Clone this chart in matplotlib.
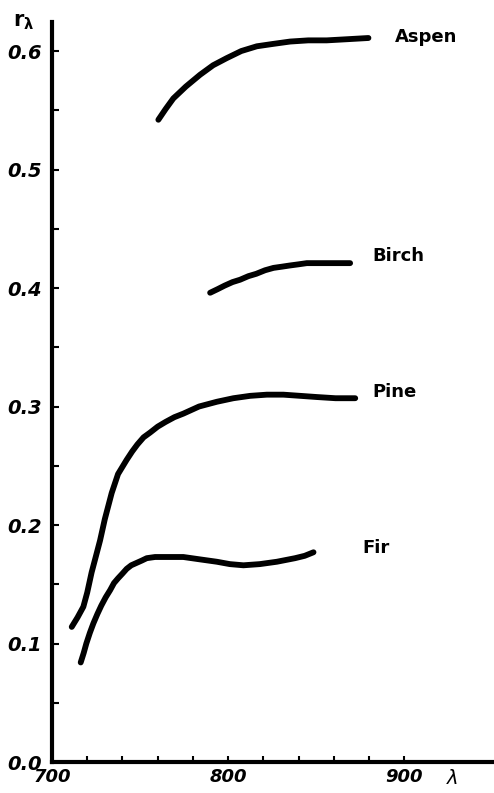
import numpy as np
import matplotlib.pyplot as plt

# curves (wavelength, reflectance)
aspen_x = [760.4, 764.5, 768.9, 776.0, 784.1, 791.5, 799.2, 807.5, 816.3, 825.5, 835.2, 845.5, 856.0, 868.0, 879.7]
aspen_y = [0.542, 0.551, 0.560, 0.570, 0.580, 0.588, 0.594, 0.600, 0.604, 0.606, 0.608, 0.609, 0.609, 0.610, 0.611]

birch_x = [789.8, 794.0, 798.0, 802.5, 806.8, 811.5, 816.0, 821.0, 825.8, 830.5, 835.0, 840.0, 844.7, 857.0, 869.3]
birch_y = [0.396, 0.399, 0.402, 0.405, 0.407, 0.410, 0.412, 0.415, 0.417, 0.418, 0.419, 0.420, 0.421, 0.421, 0.421]

pine_x = [711.2, 714.5, 717.8, 720.0, 722.5, 725.0, 727.3, 730.0, 733.9, 737.5, 742.4, 745.5, 748.5, 752.0, 755.7,
          760.0, 764.5, 769.5, 774.6, 783.5, 793.6, 803.0, 812.5, 822.0, 831.4, 841.0, 850.4, 861.0, 872.2]
pine_y = [0.114, 0.122, 0.131, 0.143, 0.160, 0.174, 0.187, 0.205, 0.227, 0.243, 0.255, 0.262, 0.268, 0.274, 0.278,
          0.283, 0.287, 0.291, 0.294, 0.300, 0.304, 0.307, 0.309, 0.310, 0.310, 0.309, 0.308, 0.307, 0.307]

fir_x = [716.3, 718.0, 719.5, 721.5, 723.5, 725.8, 728.0, 730.5, 733.0, 735.2, 737.5, 740.0, 742.4, 745.0, 748.0,
         751.0, 753.8, 758.5, 764.0, 769.0, 774.6, 784.0, 793.6, 801.0, 808.7, 818.0, 827.7, 838.0, 843.5, 848.5]
fir_y = [0.084, 0.092, 0.100, 0.109, 0.117, 0.125, 0.132, 0.139, 0.145, 0.151, 0.155, 0.159, 0.163, 0.166, 0.168,
         0.170, 0.172, 0.173, 0.173, 0.173, 0.173, 0.171, 0.169, 0.167, 0.166, 0.167, 0.169, 0.172, 0.174, 0.177]

names = ["Aspen", "Birch", "Pine", "Fir"]
label_x = [895, 882, 882, 876.5]
label_y = [0.612, 0.427, 0.312, 0.181]

y_ticks = [0.0, 0.1, 0.2, 0.3, 0.4, 0.5, 0.6]
y_tick_labels = ["0.0", "0.1", "0.2", "0.3", "0.4", "0.5", "0.6"]
x_ticks = [700, 800, 900]
x_tick_labels = ["700", "800", "900"]

fig = plt.figure(figsize=(4.94, 7.93), dpi=100)
ax = fig.add_axes([52 / 494, 31 / 793, 442 / 494, 740 / 793])

for xs, ys in [(aspen_x, aspen_y), (birch_x, birch_y), (pine_x, pine_y), (fir_x, fir_y)]:
    ax.plot(xs, ys, color="black", lw=4.2, solid_capstyle="round", solid_joinstyle="round")

for name, lx, ly in zip(names, label_x, label_y):
    ax.text(lx, ly, name, fontsize=13, fontweight="bold", va="center", ha="left")

ax.set_xlim(700, 951)
ax.set_ylim(0, 0.6245)

# only left and bottom axis lines
ax.spines["top"].set_visible(False)
ax.spines["right"].set_visible(False)
ax.spines["left"].set_linewidth(3)
ax.spines["bottom"].set_linewidth(3)

ax.set_yticks(y_ticks)
ax.set_yticklabels(y_tick_labels, fontsize=14, fontweight="bold", fontstyle="italic")
ax.set_yticks(np.arange(0.05, 0.62, 0.1), minor=True)
ax.set_xticks(x_ticks)
ax.set_xticklabels(x_tick_labels, fontsize=13, fontweight="bold", fontstyle="italic")
ax.set_xticks(np.arange(720, 900, 20), minor=True)

ax.tick_params(axis="y", which="both", direction="in", length=5, width=1.5, pad=7)
ax.tick_params(axis="x", which="both", direction="in", length=4, width=1.5, pad=4)

# axis titles
ax.text(-0.065, 1.0, r"$\mathbf{r_{\lambda}}$", transform=ax.transAxes, fontsize=15,
        ha="center", va="center", fontstyle="italic")
ax.text(927, -0.014, r"$\lambda$", fontsize=14, ha="center", va="center")

fig.savefig("out.png", dpi=100)
